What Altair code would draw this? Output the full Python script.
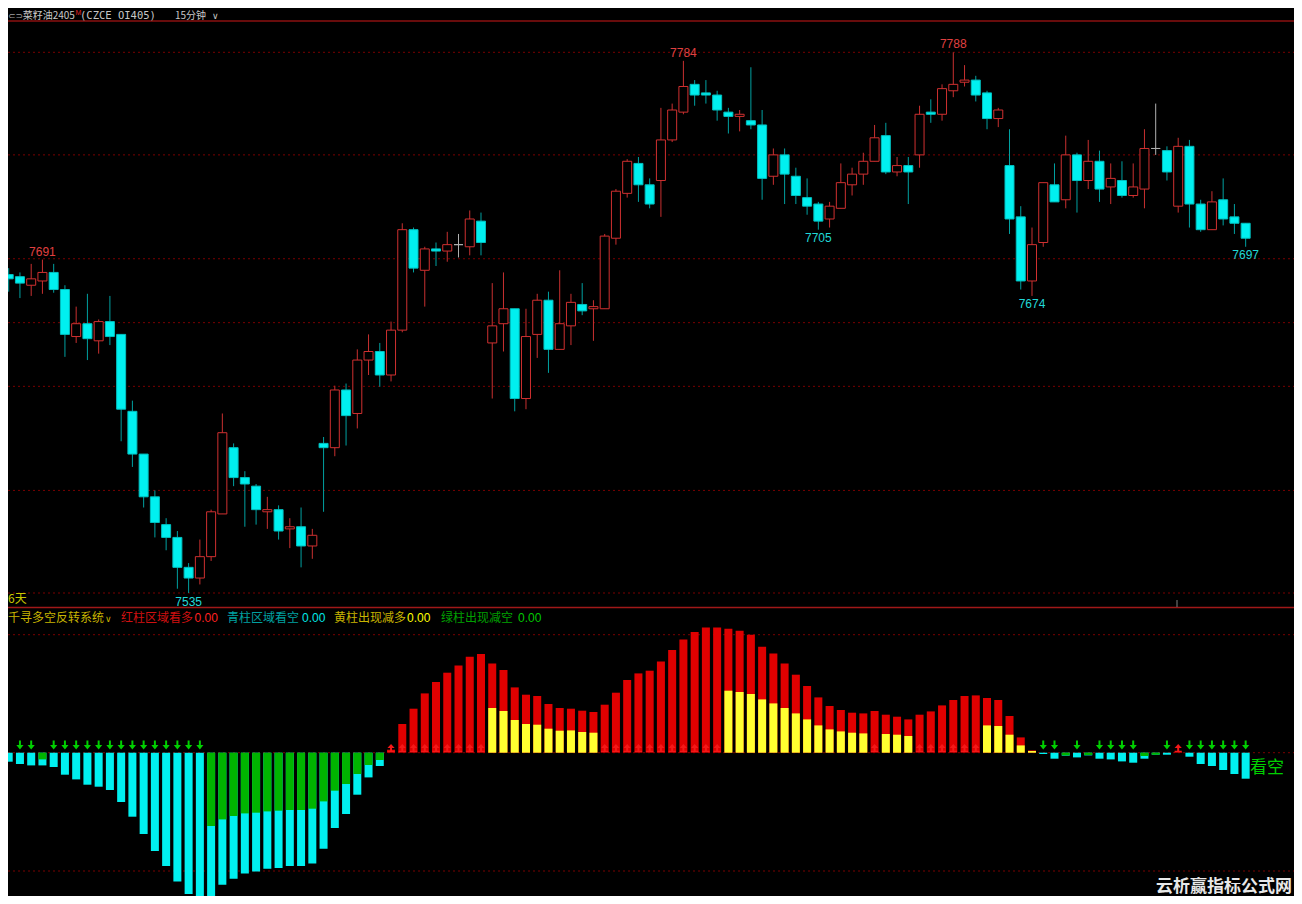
import altair as alt
import pandas as pd

# ---------------- data ----------------
opens = [7684, 7683, 7679, 7681, 7685, 7677, 7655, 7661, 7653, 7662,
         7656, 7620, 7600, 7580, 7567, 7561, 7547, 7542, 7552, 7572,
         7603, 7589, 7585, 7573, 7574, 7565, 7566, 7557, 7605, 7603,
         7630, 7619, 7644, 7648, 7637, 7658, 7705, 7686, 7696, 7695,
         7698, 7697, 7709, 7652, 7661, 7668, 7626, 7656, 7672, 7649,
         7660, 7670, 7668, 7668, 7701, 7722, 7736, 7726, 7728, 7747,
         7760, 7773, 7769, 7768, 7760, 7758, 7756, 7754, 7730, 7740,
         7730, 7720, 7717, 7710, 7715, 7726, 7731, 7737, 7749, 7732,
         7735, 7740, 7760, 7759, 7770, 7774, 7775, 7769, 7757, 7735,
         7711, 7681, 7699, 7726, 7719, 7740, 7728, 7737, 7725, 7728,
         7721, 7724, 7743, 7742, 7716, 7744, 7717, 7705, 7719, 7711,
         7708]
highs = [7687, 7685, 7689, 7691, 7689, 7679, 7669, 7675, 7663, 7674,
         7656, 7625, 7600, 7583, 7570, 7564, 7549, 7560, 7574, 7619,
         7605, 7592, 7586, 7580, 7576, 7570, 7575, 7565, 7608, 7632,
         7633, 7649, 7656, 7652, 7662, 7708, 7706, 7697, 7699, 7704,
         7703, 7714, 7713, 7680, 7685, 7668, 7668, 7675, 7676, 7686,
         7675, 7680, 7672, 7703, 7724, 7738, 7739, 7729, 7762, 7764,
         7784, 7775, 7775, 7770, 7762, 7761, 7781, 7761, 7743, 7743,
         7734, 7729, 7718, 7718, 7736, 7734, 7741, 7754, 7755, 7739,
         7739, 7763, 7766, 7773, 7788, 7782, 7777, 7770, 7762, 7752,
         7716, 7706, 7727, 7736, 7749, 7741, 7747, 7742, 7736, 7737,
         7736, 7752, 7764, 7744, 7748, 7747, 7719, 7723, 7729, 7717,
         7708]
lows = [7676, 7673, 7674, 7675, 7675.5, 7645.5, 7652, 7644, 7647, 7651,
        7606, 7594, 7575, 7561, 7555, 7537, 7535, 7539, 7550, 7572,
        7585, 7566, 7567, 7565, 7560, 7556, 7547, 7551, 7573, 7599,
        7604, 7612, 7637, 7631.5, 7634, 7657, 7685, 7669, 7688, 7690,
        7692, 7693, 7693, 7626, 7648, 7620, 7621, 7645, 7638, 7649,
        7651, 7665, 7653, 7668, 7698, 7720, 7718, 7715, 7711, 7746,
        7759, 7763, 7764, 7756, 7750, 7751, 7752, 7719, 7726, 7717,
        7717, 7712, 7705, 7706, 7715, 7721, 7726, 7737, 7731, 7730,
        7717, 7734, 7755, 7756, 7767, 7772, 7765, 7752, 7753, 7703,
        7677, 7674, 7697, 7718, 7715, 7713, 7724, 7718, 7717, 7720,
        7720, 7715, 7740, 7728, 7713, 7706, 7704, 7705, 7707, 7703,
        7697]
closes = [7682, 7680, 7682, 7685, 7677, 7656, 7661, 7654, 7662, 7655,
          7621, 7600, 7580, 7568, 7561, 7547, 7542, 7552, 7573, 7610,
          7589, 7586, 7574, 7574, 7564, 7566, 7557, 7562, 7603, 7630,
          7618, 7644, 7648, 7637, 7658, 7705, 7687, 7696, 7695, 7698,
          7698, 7710, 7699, 7660, 7668, 7626, 7655, 7672, 7649, 7661,
          7671, 7667, 7669, 7702, 7723, 7737, 7726, 7717, 7747, 7761,
          7772, 7768, 7768, 7761, 7758, 7759, 7754, 7729, 7740, 7731,
          7721, 7716, 7709, 7716, 7727, 7731, 7737, 7748, 7732, 7735,
          7732, 7759, 7759, 7771, 7773, 7775, 7768, 7757, 7761, 7710,
          7681, 7698, 7727, 7718, 7740, 7728, 7737, 7724, 7729, 7721,
          7725, 7743, 7743, 7732, 7744, 7717, 7705, 7718, 7710, 7708,
          7701]

# indicator: main bar (red / cyan) and overlay bar (yellow / green)
ind_main = [-9, -11.3, -12.7, -12.7, -14.3, -22, -26.7, -32, -34, -37.3,
            -49.3, -64, -81.3, -98.3, -113.3, -128.7, -141.3, -148, -145.3, -132,
            -126, -120.7, -118.7, -116, -115.3, -113.3, -113.3, -110.7, -96, -75.3,
            -61.3, -42, -24.7, -13.3, 3, 28.7, 44, 59.3, 70.7, 80,
            87.3, 96, 98.7, 89.3, 82.7, 65.3, 58, 56.7, 48.7, 44.7,
            44, 42, 40.7, 48, 60, 72.7, 79.3, 82, 91.3, 102.7,
            113.3, 120.7, 125.3, 125.3, 124, 122, 118, 106, 99.3, 89.3,
            78, 66.7, 55.3, 46.7, 42.7, 40, 39.3, 41.7, 38, 36,
            33.3, 38, 41.3, 47.3, 52.7, 56.7, 57.3, 54.7, 52.7, 36.7,
            15.3, 2.3, -1.3, -6, -3, -4.7, -2.7, -6, -6.7, -8.7,
            -10, -6, -2, -2, 0.7, -4, -11.3, -13.3, -17.3, -21.3,
            -26]
ind_over = [0, 0, 0, -6.7, 0, 0, 0, 0, 0, 0,
            0, 0, 0, 0, 0, 0, 0, 0, -73.3, -66.7,
            -63.3, -60.7, -60, -58.7, -58, -57.3, -57.3, -56, -48.7, -38,
            -31.3, -21.3, -12.3, -7.3, 0, 0, 0, 0, 0, 0,
            0, 0, 0, 44.7, 41.7, 32.7, 28.7, 28, 24, 22,
            22.3, 20.7, 20, 0, 0, 0, 0, 0, 0, 0,
            0, 0, 0, 0, 62, 60.7, 58.7, 53.3, 49.3, 44.7,
            39.3, 33.3, 27.3, 23.3, 21.3, 20, 19.3, 0, 18.7, 18,
            16.7, 0, 0, 0, 0, 0, 0, 27.3, 26.7, 18,
            7.3, 1.7, 0, 0, -2.7, 0, -2.3, 0, 0, 0,
            0, -3.3, -2, 0, 0, 0, 0, 0, 0, 0,
            0]
down_signal = [1, 2, 4, 5, 6, 7, 8, 9, 10, 11, 12, 13, 14, 15, 16, 17,
               92, 93, 95, 97, 98, 99, 100, 103, 105, 106, 107, 108, 109, 110]
up_signal = [34, 35, 36, 37, 38, 39, 40, 41, 42,
             53, 54, 55, 56, 57, 58, 59, 60, 61, 62, 63,
             77, 81, 82, 83, 84, 85, 86, 104]
price_grid = [7788, 7740, 7691.4, 7661.5, 7631.7, 7583, 7535]
ind_grid = [118, 0, -118.3]
high_label_idx = [3, 60, 84]
low_label_idx = [16, 72, 91, 110]

# ---------------- layout (page pixels -> chart pixels) ----------------
M = 8
W, H = 1302 - 2 * M, 904 - 2 * M
N = len(opens)


def c(p):
    return p - M


X0, STEP = 3.7, 11.336
x_scale = alt.Scale(domain=[0, N - 1], range=[c(X0), c(X0 + STEP * (N - 1))],
                    zero=False, nice=False)
price_scale = alt.Scale(domain=[7535, 7788], range=[c(593.0), c(52.3)],
                        zero=False, nice=False)
ZERO = c(752.7)
ind_scale = alt.Scale(domain=[-150, 130], range=[ZERO + 150, ZERO - 130],
                      zero=False, nice=False)

CJK = "Noto Sans CJK SC"
NUM = "Liberation Sans"

cdf = pd.DataFrame({"i": range(N), "open": opens, "high": highs,
                    "low": lows, "close": closes})
cdf["dir"] = ["up" if cl > op else ("down" if cl < op else "flat")
              for op, cl in zip(opens, closes)]
DIRS = ["up", "down", "flat"]

X = alt.X("i:Q", scale=x_scale, axis=None)

grid_df = pd.DataFrame({"p": price_grid})
price_grid_layer = alt.Chart(grid_df).mark_rule(
    color="#7a0000", strokeDash=[2, 3], strokeWidth=1).encode(
    y=alt.Y("p:Q", scale=price_scale, axis=None),
    x=alt.value(0), x2=alt.value(W))

wicks = alt.Chart(cdf).mark_rule(strokeWidth=1).encode(
    x=X,
    y=alt.Y("low:Q", scale=price_scale, axis=None),
    y2="high:Q",
    color=alt.Color("dir:N", scale=alt.Scale(domain=DIRS, range=["#c83030", "#00a0a0", "#b0b0b0"]),
                    legend=None))

bodies = alt.Chart(cdf).mark_bar(size=9, strokeWidth=1).encode(
    x=X,
    y=alt.Y("open:Q", scale=price_scale, axis=None),
    y2="close:Q",
    fill=alt.Fill("dir:N", scale=alt.Scale(domain=DIRS, range=["#000000", "#00f0f0", "#b0b0b0"]),
                  legend=None),
    stroke=alt.Stroke("dir:N", scale=alt.Scale(domain=DIRS, range=["#d03030", "#00c0c0", "#b0b0b0"]),
                      legend=None))

hi_df = cdf.iloc[high_label_idx].copy()
hi_df["t"] = [str(int(round(v))) for v in hi_df["high"]]
lo_df = cdf.iloc[low_label_idx].copy()
lo_df["t"] = [str(int(round(v))) for v in lo_df["low"]]

hi_labels = alt.Chart(hi_df).mark_text(
    color="#e04040", fontSize=12, font=NUM, baseline="middle", dy=-8).encode(
    x=X, y=alt.Y("high:Q", scale=price_scale, axis=None), text="t:N")
lo_labels = alt.Chart(lo_df).mark_text(
    color="#20d8d8", fontSize=12, font=NUM, baseline="middle", dy=8.5).encode(
    x=X, y=alt.Y("low:Q", scale=price_scale, axis=None), text="t:N")

# indicator
idf = pd.DataFrame({"i": range(N), "v": ind_main, "ov": ind_over})
idf["s"] = ["pos" if v > 0 else "neg" for v in ind_main]
odf = idf[idf["ov"] != 0].copy()
odf["s2"] = ["pos" if v > 0 else "neg" for v in odf["ov"]]

ig_df = pd.DataFrame({"g": ind_grid})
ind_grid_layer = alt.Chart(ig_df).mark_rule(
    color="#7a0000", strokeDash=[2, 3], strokeWidth=1).encode(
    y=alt.Y("g:Q", scale=ind_scale, axis=None),
    x=alt.value(0), x2=alt.value(W))

main_bars = alt.Chart(idf).mark_bar(size=8).encode(
    x=X,
    y=alt.Y("v:Q", scale=ind_scale, axis=None),
    y2=alt.datum(0),
    color=alt.Color("s:N", scale=alt.Scale(domain=["pos", "neg"], range=["#e00000", "#00f0f0"]),
                    legend=None))
over_bars = alt.Chart(odf).mark_bar(size=8).encode(
    x=X,
    y=alt.Y("ov:Q", scale=ind_scale, axis=None),
    y2=alt.datum(0),
    color=alt.Color("s2:N", scale=alt.Scale(domain=["pos", "neg"], range=["#ffff30", "#00b400"]),
                    legend=None))

DOWN = "M-0.22,-1 L0.22,-1 L0.22,0 L0.8,0 L0,1 L-0.8,0 L-0.22,0 Z"
UP = ("M0,-1 L0.8,-0.1 L0.22,-0.1 L0.22,0.5 L0.8,0.5 L0.8,0.8 "
      "L-0.8,0.8 L-0.8,0.5 L-0.22,0.5 L-0.22,-0.1 L-0.8,-0.1 Z")
down_arrows = alt.Chart(pd.DataFrame({"i": down_signal})).mark_point(
    shape=DOWN, size=81, filled=True, color="#00d000", opacity=1, strokeWidth=0).encode(
    x=X, y=alt.value(c(745)))
up_arrows = alt.Chart(pd.DataFrame({"i": up_signal})).mark_point(
    shape=UP, size=81, filled=True, color="#f41818", opacity=1, strokeWidth=0).encode(
    x=X, y=alt.value(c(748.5)))

one = pd.DataFrame({"a": [0]})


def txt(s, x, y, color, size=12, font=CJK, align="left", weight="normal"):
    return alt.Chart(one).mark_text(
        text=s, align=align, baseline="middle", color=color, fontSize=size,
        font=font, fontWeight=weight).encode(x=alt.value(x), y=alt.value(y))


def hline(y, color, width=1.0):
    return alt.Chart(one).mark_rule(color=color, strokeWidth=width).encode(
        x=alt.value(0), x2=alt.value(W), y=alt.value(y))


HY = 7.5  # header text row (chart px)
texts = [
    hline(c(21), "#8b1010", 1.5),
    hline(c(607.5), "#a01818", 1.5),
    alt.Chart(one).mark_rule(color="#808080", strokeWidth=1).encode(
        x=alt.value(c(1177)), y=alt.value(c(600)), y2=alt.value(c(607))),
    txt("⊂⊃", 0, HY, "#a0a0a0", 9, "DejaVu Sans"),
    txt("菜籽油2405", c(22.7), HY, "#c8c8c8", 10),
    txt("M", c(75.5), HY - 3, "#e02020", 7, NUM),
    txt("(CZCE OI405)", c(80), HY, "#c8c8c8", 10.5, "DejaVu Sans Mono"),
    txt("15分钟", c(175), HY, "#c8c8c8", 10),
    txt("∨", c(212), HY, "#c8c8c8", 9, "DejaVu Sans"),
    txt("6天", 0, c(599), "#c8c800", 12),
    txt("千寻多空反转系统", 0, c(618), "#c8b400", 12),
    txt("∨", c(105), c(619), "#c8b400", 9, "DejaVu Sans"),
    txt("红柱区域看多", c(121), c(618), "#d01010", 12),
    txt("0.00", c(194.6), c(618), "#ff2020", 12, NUM),
    txt("青柱区域看空", c(227), c(618), "#00a0a0", 12),
    txt("0.00", c(302), c(618), "#00e8e8", 12, NUM),
    txt("黄柱出现减多", c(334), c(618), "#c8b400", 12),
    txt("0.00", c(407), c(618), "#ffff00", 12, NUM),
    txt("绿柱出现减空", c(441), c(618), "#00a000", 12),
    txt("0.00", c(518), c(618), "#00c800", 12, NUM),
    txt("看空", c(1250), c(768), "#00d000", 17),
    txt("云析赢指标公式网", c(1156), c(887), "#e8e8e8", 17, CJK, "left", "bold"),
]

chart = alt.layer(
    price_grid_layer, wicks, bodies, hi_labels, lo_labels,
    ind_grid_layer, main_bars, over_bars, down_arrows, up_arrows,
    *texts
).resolve_scale(
    y="independent", color="independent", fill="independent", stroke="independent"
).properties(
    width=W, height=H, background="#000000", padding=0,
    autosize=alt.AutoSizeParams(type="none")
).configure_view(strokeWidth=0)

chart.save("out.html", embed_options={"renderer": "svg", "actions": False})
